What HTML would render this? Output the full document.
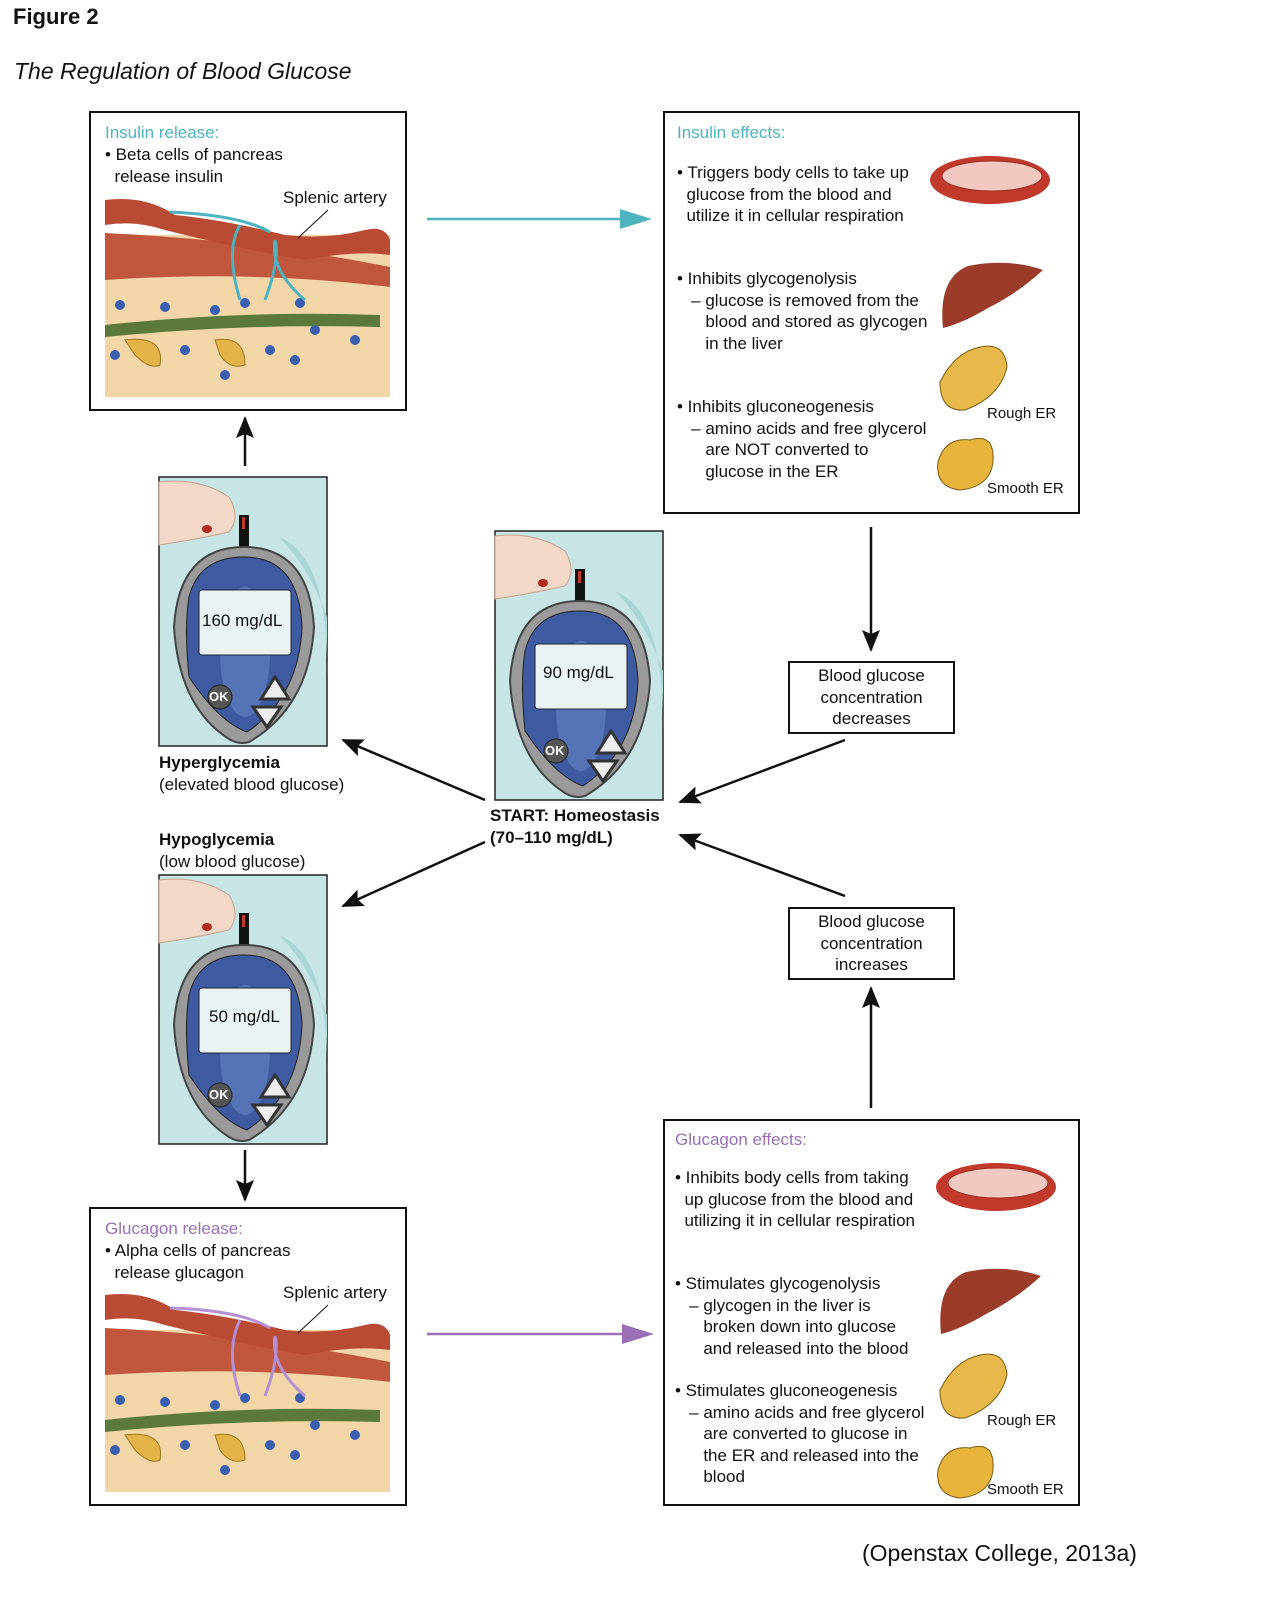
<!DOCTYPE html>
<html><head><meta charset="utf-8"><style>
body{margin:0;width:1272px;height:1608px;background:#fff;position:relative;font-family:"Liberation Sans",Arial,sans-serif;color:#111;overflow:hidden}
.a{position:absolute;white-space:nowrap}
.box{position:absolute;border:2px solid #111;box-sizing:border-box}
.t{font-size:17px;line-height:21.5px}
.teal{color:#4fb3bf}.purp{color:#9a6fb5}
.c{text-align:center}
</style></head><body>
<div class="a" style="left:13px;top:4px;font-size:22px;font-weight:bold">Figure 2</div>
<div class="a" style="left:14px;top:58px;font-size:23px;font-style:italic">The Regulation of Blood Glucose</div>

<div class="box" style="left:89px;top:111px;width:318px;height:300px"></div>
<div class="box" style="left:663px;top:111px;width:417px;height:403px"></div>
<div class="box" style="left:89px;top:1207px;width:318px;height:299px"></div>
<div class="box" style="left:663px;top:1119px;width:417px;height:387px"></div>
<div class="box" style="left:788px;top:661px;width:167px;height:73px"></div>
<div class="box" style="left:788px;top:907px;width:167px;height:73px"></div>

<svg width="1272" height="1608" style="position:absolute;left:0;top:0">
<defs>
<marker id="ab" markerWidth="22" markerHeight="18" refX="20" refY="9" orient="auto" markerUnits="userSpaceOnUse" viewBox="0 0 22 18"><path d="M0,0 L22,9 L0,18 L4,9z" fill="#111"/></marker>
<symbol id="meter" overflow="visible">
 <rect x="0" y="0" width="168" height="269" fill="#c6e5e4" stroke="#222" stroke-width="1.5"/>
 <path d="M120,60 Q170,80 168,200 L168,140 Q150,90 120,60z" fill="#a9d6d4"/>
 <path d="M0,5 Q40,0 70,20 Q82,40 70,55 Q40,62 0,68z" fill="#f3d8c8" stroke="#c9a48f"/>
 <ellipse cx="48" cy="52" rx="5" ry="4" fill="#b02a1f"/>
 <rect x="80" y="38" width="10" height="45" fill="#111"/><rect x="83" y="40" width="3" height="12" fill="#c0392b"/>
 <path d="M85,70 Q150,70 155,150 Q150,230 90,265 Q80,268 70,262 Q20,230 15,150 Q20,70 85,70z" fill="#9a9a9a" stroke="#444" stroke-width="2"/>
 <path d="M85,80 Q140,80 143,150 Q140,220 88,255 Q60,245 30,200 Q25,150 30,120 Q40,80 85,80z" fill="#3e5aa0" stroke="#222"/>
 <ellipse cx="86" cy="175" rx="25" ry="65" fill="#5f7fc0" opacity=".7"/>
 <rect x="40" y="113" width="92" height="65" rx="3" fill="#e9f3f4" stroke="#223"/>
 <circle cx="61" cy="220" r="12" fill="#555" stroke="#222"/>
 <path d="M116,200 L102,222 L130,222z" fill="#eee" stroke="#333" stroke-width="3"/>
 <path d="M94,230 L122,230 L108,250z" fill="#eee" stroke="#333" stroke-width="3"/>
</symbol>
<symbol id="panc" overflow="visible">
 <rect x="0" y="40" width="285" height="162" fill="#f3d6a8"/>
 <path d="M0,38 Q150,45 285,72 L285,92 Q150,75 0,85z" fill="#c0563d"/>
 <path d="M0,5 Q40,0 70,20 Q120,25 180,40 Q220,45 260,35 Q280,30 285,45 L285,60 Q250,55 200,65 Q140,55 60,35 Q30,25 0,30z" fill="#b94a34"/>
 <path d="M0,130 Q140,115 275,120 L275,132 Q140,128 0,142z" fill="#5b7a3a"/>
 <path d="M20,145 Q60,140 55,170 Q45,175 30,160z M110,145 Q140,140 140,170 Q125,175 115,160z" fill="#e3b347" stroke="#a07820"/>
 <g fill="#3b5fb0"><circle cx="15" cy="110" r="5"/><circle cx="60" cy="112" r="5"/><circle cx="110" cy="115" r="5"/><circle cx="140" cy="108" r="5"/><circle cx="195" cy="108" r="5"/><circle cx="210" cy="135" r="5"/><circle cx="250" cy="145" r="5"/><circle cx="10" cy="160" r="5"/><circle cx="80" cy="155" r="5"/><circle cx="165" cy="155" r="5"/><circle cx="190" cy="165" r="5"/><circle cx="120" cy="180" r="5"/></g>
</symbol>
<symbol id="mito" overflow="visible"><ellipse cx="60" cy="25" rx="60" ry="24" fill="#c0392b"/><ellipse cx="62" cy="21" rx="50" ry="15" fill="#f2c9c0" stroke="#a02d20"/></symbol>
<symbol id="liver" overflow="visible"><path d="M5,70 Q0,20 30,8 Q70,0 105,12 Q80,35 50,50 Q25,65 5,70z" fill="#9b3b2a"/></symbol>
<symbol id="rer" overflow="visible"><path d="M5,40 Q20,10 45,5 Q70,0 72,25 Q65,55 30,68 Q5,70 5,40z" fill="#e8b84a" stroke="#7a5a10"/></symbol>
<symbol id="ser" overflow="visible"><path d="M3,30 Q10,5 35,8 Q60,0 58,30 Q55,55 25,58 Q0,55 3,30z" fill="#e7b53c" stroke="#7a5a10"/></symbol>
</defs>
<use href="#panc" x="105" y="195"/>
<path d="M170,212 Q240,215 270,232" stroke="#4fb3bf" stroke-width="3" fill="none"/>
<path d="M240,300 Q225,250 240,225 M265,300 Q280,260 275,240 M305,300 Q270,270 275,240" stroke="#4fb3bf" stroke-width="3" fill="none"/>
<line x1="298" y1="238" x2="328" y2="210" stroke="#111"/>
<use href="#panc" x="105" y="1290"/>
<path d="M170,1308 Q240,1310 270,1328" stroke="#b48fd4" stroke-width="3" fill="none"/>
<path d="M240,1396 Q225,1350 240,1320 M265,1396 Q280,1356 275,1336 M305,1396 Q270,1366 275,1336" stroke="#b48fd4" stroke-width="3" fill="none"/>
<line x1="298" y1="1333" x2="328" y2="1305" stroke="#111"/>
<use href="#meter" x="159" y="477"/>
<use href="#meter" x="495" y="531"/>
<use href="#meter" x="159" y="875"/>
<use href="#mito" x="930" y="155"/><use href="#liver" x="938" y="258"/><use href="#rer" x="935" y="342"/><use href="#ser" x="935" y="432"/>
<use href="#mito" x="936" y="1162"/><use href="#liver" x="936" y="1264"/><use href="#rer" x="935" y="1350"/><use href="#ser" x="935" y="1440"/>
<line x1="427" y1="219" x2="630" y2="219" stroke="#4fb3bf" stroke-width="2.5"/><path d="M652,219 L620,209 L620,229z" fill="#4fb3bf"/>
<line x1="427" y1="1334" x2="630" y2="1334" stroke="#9a6fb5" stroke-width="2.5"/><path d="M654,1334 L622,1324 L622,1344z" fill="#9a6fb5"/>
<g stroke="#111" stroke-width="2.5" marker-end="url(#ab)">
<line x1="245" y1="466" x2="245" y2="418"/>
<line x1="245" y1="1150" x2="245" y2="1200"/>
<line x1="871" y1="527" x2="871" y2="650"/>
<line x1="871" y1="1108" x2="871" y2="988"/>
<line x1="485" y1="800" x2="343" y2="740"/>
<line x1="845" y1="740" x2="680" y2="802"/>
<line x1="485" y1="842" x2="343" y2="906"/>
<line x1="845" y1="896" x2="680" y2="835"/>
</g>
</svg>

<div class="a t teal" style="left:105px;top:122px">Insulin release:</div>
<div class="a t" style="left:105px;top:144px">• Beta cells of pancreas<br>&nbsp;&nbsp;release insulin</div>
<div class="a t" style="left:283px;top:187px">Splenic artery</div>
<div class="a t purp" style="left:105px;top:1218px">Glucagon release:</div>
<div class="a t" style="left:105px;top:1240px">• Alpha cells of pancreas<br>&nbsp;&nbsp;release glucagon</div>
<div class="a t" style="left:283px;top:1282px">Splenic artery</div>

<div class="a t teal" style="left:677px;top:122px">Insulin effects:</div>
<div class="a t" style="left:677px;top:162px">• Triggers body cells to take up<br>&nbsp;&nbsp;glucose from the blood and<br>&nbsp;&nbsp;utilize it in cellular respiration</div>
<div class="a t" style="left:677px;top:268px">• Inhibits glycogenolysis<br>&nbsp;&nbsp;&nbsp;– glucose is removed from the<br>&nbsp;&nbsp;&nbsp;&nbsp;&nbsp;&nbsp;blood and stored as glycogen<br>&nbsp;&nbsp;&nbsp;&nbsp;&nbsp;&nbsp;in the liver</div>
<div class="a t" style="left:677px;top:396px">• Inhibits gluconeogenesis<br>&nbsp;&nbsp;&nbsp;– amino acids and free glycerol<br>&nbsp;&nbsp;&nbsp;&nbsp;&nbsp;&nbsp;are NOT converted to<br>&nbsp;&nbsp;&nbsp;&nbsp;&nbsp;&nbsp;glucose in the ER</div>
<div class="a" style="left:987px;top:405px;font-size:15px">Rough ER</div>
<div class="a" style="left:987px;top:480px;font-size:15px">Smooth ER</div>

<div class="a t purp" style="left:675px;top:1129px">Glucagon effects:</div>
<div class="a t" style="left:675px;top:1167px">• Inhibits body cells from taking<br>&nbsp;&nbsp;up glucose from the blood and<br>&nbsp;&nbsp;utilizing it in cellular respiration</div>
<div class="a t" style="left:675px;top:1273px">• Stimulates glycogenolysis<br>&nbsp;&nbsp;&nbsp;– glycogen in the liver is<br>&nbsp;&nbsp;&nbsp;&nbsp;&nbsp;&nbsp;broken down into glucose<br>&nbsp;&nbsp;&nbsp;&nbsp;&nbsp;&nbsp;and released into the blood</div>
<div class="a t" style="left:675px;top:1380px">• Stimulates gluconeogenesis<br>&nbsp;&nbsp;&nbsp;– amino acids and free glycerol<br>&nbsp;&nbsp;&nbsp;&nbsp;&nbsp;&nbsp;are converted to glucose in<br>&nbsp;&nbsp;&nbsp;&nbsp;&nbsp;&nbsp;the ER and released into the<br>&nbsp;&nbsp;&nbsp;&nbsp;&nbsp;&nbsp;blood</div>
<div class="a" style="left:987px;top:1412px;font-size:15px">Rough ER</div>
<div class="a" style="left:987px;top:1481px;font-size:15px">Smooth ER</div>

<div class="a t c" style="left:788px;top:665px;width:167px">Blood glucose<br>concentration<br>decreases</div>
<div class="a t c" style="left:788px;top:911px;width:167px">Blood glucose<br>concentration<br>increases</div>

<div class="a" style="left:202px;top:611px;font-size:17px">160 mg/dL</div>
<div class="a" style="left:543px;top:663px;font-size:17px">90 mg/dL</div>
<div class="a" style="left:209px;top:1007px;font-size:17px">50 mg/dL</div>
<div class="a" style="left:209px;top:689px;font-size:13px;color:#fff;font-weight:bold">OK</div>
<div class="a" style="left:545px;top:743px;font-size:13px;color:#fff;font-weight:bold">OK</div>
<div class="a" style="left:209px;top:1087px;font-size:13px;color:#fff;font-weight:bold">OK</div>

<div class="a t" style="left:159px;top:752px"><b>Hyperglycemia</b><br>(elevated blood glucose)</div>
<div class="a t" style="left:159px;top:829px"><b>Hypoglycemia</b><br>(low blood glucose)</div>
<div class="a t" style="left:490px;top:805px;font-weight:bold">START: Homeostasis<br>(70–110 mg/dL)</div>
<div class="a" style="left:862px;top:1540px;font-size:23px">(Openstax College, 2013a)</div>
</body></html>
